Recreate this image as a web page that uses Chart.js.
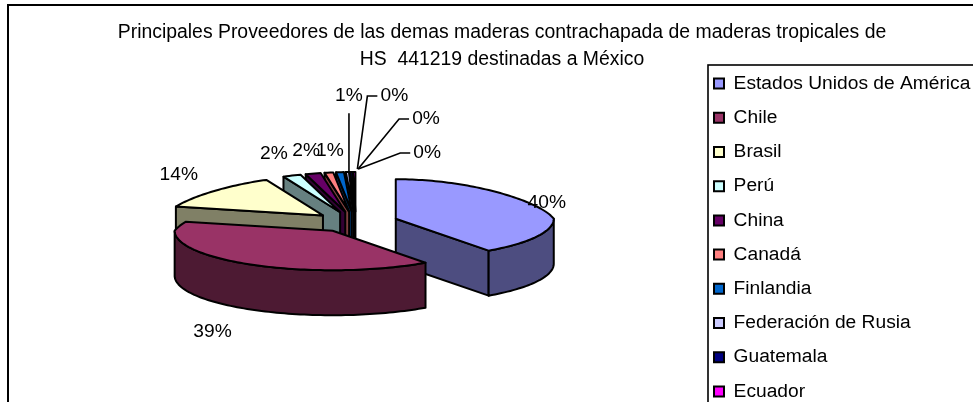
<!DOCTYPE html>
<html><head><meta charset="utf-8">
<style>html,body{margin:0;padding:0;background:#fff;overflow:hidden}canvas{display:block}</style>
<script src="https://cdn.jsdelivr.net/npm/chart.js@4/dist/chart.umd.js"></script>
</head><body><canvas id="c" width="973" height="402"></canvas>
<script>
const titleLines = ["Principales Proveedores de las demas maderas contrachapada de maderas tropicales de","HS  441219 destinadas a México"];
const categories = ["Estados Unidos de América","Chile","Brasil","Perú","China","Canadá","Finlandia","Federación de Rusia","Guatemala","Ecuador"];
const shares = [40.0,38.6,14.2,2.2,1.9,1.1,1.0,0.4,0.3,0.3];
const fills = ["#9999FF","#993366","#FFFFCC","#CCFFFF","#660066","#FF8080","#0066CC","#CCCCFF","#000080","#FF00FF"];
// label placement relative to each slice's outer rim point
const labelNudges = [[10,-4],[-33,68],[-36,-16],[-18,-22],[-7,-23],[1,-22],[9,-76],[47,-76],[75,-53],[73,-19]];
const FONT = '"Liberation Sans", Arial, sans-serif';
const TILT = 0.25, DEPTH = 45, PERSP = 0.2, EXPLODE = 42, FONT_SIZE = 19.2, TITLE_SIZE = 19.4;

function shade(hex){const n=parseInt(hex.slice(1),16);
  return `rgb(${(n>>16&255)*.5},${(n>>8&255)*.5},${(n&255)*.5})`;}

function projector(arc){
  const mid=(arc.startAngle+arc.endAngle)/2, e=arc.options.offset;
  const ax=arc.x+Math.cos(mid)*e, ay=arc.y+Math.sin(mid)*e*TILT;
  return (a,r)=>{
    const s=Math.sin(a),c=Math.cos(a);
    return [ax+r*c*(1-PERSP*Math.max(0,-s)), ay+r*s*TILT];
  };
}
function poly(ctx,pts,fill){
  ctx.beginPath();pts.forEach((p,i)=>i?ctx.lineTo(p[0],p[1]):ctx.moveTo(p[0],p[1]));ctx.closePath();
  ctx.fillStyle=fill;ctx.fill();ctx.stroke();
}
function rim(arc,P){const pts=[],n=Math.max(2,Math.ceil((arc.endAngle-arc.startAngle)/(Math.PI/120)));
  for(let i=0;i<=n;i++){const a=arc.startAngle+(arc.endAngle-arc.startAngle)*i/n;pts.push([a,P(a,arc.outerRadius)]);}
  return pts;}
function drawSlice(ctx,arc,color){
  const P=projector(arc), dark=shade(color), pts=rim(arc,P), apex=P(0,0);
  const down=p=>[p[0],p[1]+DEPTH];
  const face=(a,normal)=>{ if(Math.sin(normal)>0.001){const o=P(a,arc.outerRadius);poly(ctx,[apex,o,down(o),down(apex)],dark);} };
  face(arc.startAngle,arc.startAngle-Math.PI/2);
  face(arc.endAngle,arc.endAngle+Math.PI/2);
  const front=pts.filter(q=>Math.sin(q[0])>=0).map(q=>q[1]);
  if(front.length>1) poly(ctx,[...front,...front.slice().reverse().map(down)],dark);
  poly(ctx,[apex,...pts.map(q=>q[1])],color);
}
const pie3d={id:'pie3d',
  beforeDraw(chart){const ctx=chart.ctx,l=chart.legend;ctx.save();ctx.strokeStyle='#000';
    ctx.lineWidth=2;ctx.strokeRect(8,5,2000,2000);
    ctx.lineWidth=1.6;ctx.strokeRect(l.left+9,65,2000,2000);ctx.restore();},
  afterLayout(chart){
    const t=chart.titleBlock,l=chart.legend,w=l.right-l.left;
    t.left=31;t.right=973;
    l.left=699;l.right=699+w;l.top+=59;l.bottom+=59;
  },
  beforeDatasetDraw(chart,args){
    const ctx=chart.ctx,arcs=args.meta.data;
    const order=arcs.map((a,i)=>i).sort((i,j)=>{
      const m=a=>Math.sin((a.startAngle+a.endAngle)/2);return m(arcs[i])-m(arcs[j]);});
    ctx.save();ctx.strokeStyle='#000';ctx.lineWidth=2;ctx.lineJoin='round';
    order.forEach(i=>drawSlice(ctx,arcs[i],fills[i]));
    ctx.restore();
    return false;
  },
  afterDatasetsDraw(chart){
    const ctx=chart.ctx,arcs=chart.getDatasetMeta(0).data;
    ctx.save();ctx.font=`${FONT_SIZE}px ${FONT}`;ctx.fillStyle='#000';ctx.strokeStyle='#000';ctx.lineWidth=1.6;
    ctx.textAlign='center';ctx.textBaseline='middle';
    arcs.forEach((arc,i)=>{
      const mid=(arc.startAngle+arc.endAngle)/2,o=projector(arc)(mid,arc.outerRadius);
      const lx=o[0]+labelNudges[i][0],ly=o[1]+labelNudges[i][1];
      if(i===6){ctx.beginPath();ctx.moveTo(lx,o[1]);ctx.lineTo(lx,ly+17);ctx.stroke();}
      if(i>6){ctx.beginPath();ctx.moveTo(o[0]+(9-i)*3+4,o[1]-3);ctx.lineTo(lx-27,ly);ctx.lineTo(lx-17,ly);ctx.stroke();}
      ctx.fillText(Math.round(shares[i])+'%',lx,ly);
    });
    ctx.restore();
  }
};
new Chart(document.getElementById('c'),{
  type:'pie',
  data:{labels:categories,datasets:[{data:shares,backgroundColor:fills,borderColor:'#000',borderWidth:2,offset:EXPLODE}]},
  options:{
    responsive:false,animation:false,radius:158,
    layout:{padding:{left:20,right:0,top:0,bottom:36}},
    plugins:{
      tooltip:{enabled:false},
      title:{display:true,text:titleLines,color:'#000',fullSize:false,font:{family:FONT,size:TITLE_SIZE,weight:'normal',lineHeight:1.39},padding:{top:19,bottom:5}},
      legend:{position:'right',align:'start',labels:{color:'#000',font:{family:FONT,size:FONT_SIZE},boxWidth:10,boxHeight:10,padding:15}}
    }
  },
  plugins:[pie3d]
});
</script></body></html>
